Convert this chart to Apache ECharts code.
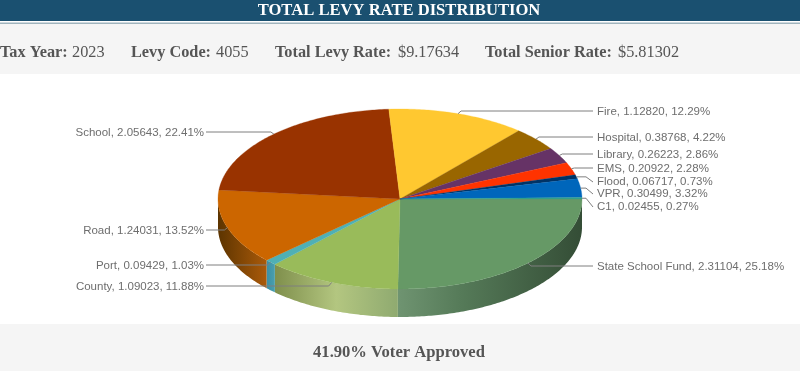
<!DOCTYPE html>
<html>
<head>
<meta charset="utf-8">
<style>html,body{margin:0;padding:0;background:#fff}#c{width:800px;height:371px}</style>
<script src="https://cdn.jsdelivr.net/npm/echarts@6/dist/echarts.min.js"></script>
</head>
<body>
<div id="c"></div>
<script>
// ---- data ----
const categories = ['State School Fund','County','Port','Road','School','Fire','Hospital','Library','EMS','Flood','VPR','C1'];
const values = [2.31104,1.09023,0.09429,1.24031,2.05643,1.12820,0.38768,0.26223,0.20922,0.06717,0.30499,0.02455];
const percents = [25.18,11.88,1.03,13.52,22.41,12.29,4.22,2.86,2.28,0.73,3.32,0.27];

// ---- styles and layout ----
const sliceColors = ['#669966','#99bb5a','#4fb0b5','#cc6600','#993300','#ffc830','#996600','#663366','#ff3300','#003366','#0066bb','#33a08a'];
const sideStops = {
  0: [[0,'#6f9471'],[0.35,'#557a58'],[1,'#344d36']],
  1: [[0,'#7f8f4c'],[0.5,'#b3c680'],[1,'#8faa70']],
  2: [[0,'#3a8fa5'],[1,'#4a9fae']],
  3: [[0,'#5c3400'],[1,'#aa5a0a']]
};
const labelYs = [267,287,266,231,133,112,138,155,169,182,194,207];
const cx = 400, cy = 199, rx = 182, ry = 90, depth = 28;
const labelRightX = 597, labelLeftX = 204;
const total = values.reduce((a,b)=>a+b,0);
const toRad = d => d*Math.PI/180;
const spans = [];
values.reduce((acc,v)=>{const e=acc+v/total*360;spans.push([acc,e]);return e;},0);
const pt = (deg,dy=0) => [cx+rx*Math.cos(toRad(deg)), cy+ry*Math.sin(toRad(deg))+dy];
const arc = (a,b,dy=0) => {
  const pts=[], n=Math.max(2,Math.ceil(Math.abs(b-a)/0.75));
  for(let i=0;i<=n;i++) pts.push(pt(a+(b-a)*i/n,dy));
  return pts;
};

function renderSide(params, api){
  const i = api.value(0), a = spans[i][0], b = Math.min(spans[i][1],180);
  if(a>=180) return {type:'group',children:[]};
  const pts = arc(a,b).concat(arc(b,a,depth));
  return {type:'polygon',shape:{points:pts},
    style:{fill:new echarts.graphic.LinearGradient(0,0,1,0,sideStops[i].map(s=>({offset:s[0],color:s[1]}))),stroke:null}};
}
function renderTop(params, api){
  const i = api.value(0), a = spans[i][0], b = spans[i][1];
  return {type:'polygon',shape:{points:[[cx,cy]].concat(arc(a,b))},
    style:{fill:sliceColors[i],stroke:sliceColors[i],lineWidth:0.3}};
}
function renderLabel(params, api){
  const i = api.value(0), mid = (spans[i][0]+spans[i][1])/2, anchor = pt(mid), y = labelYs[i];
  const right = anchor[0] > cx;
  const lineY = y-1;
  let pts;
  if(i>=9) pts = [anchor,[586,anchor[1]],[593,y]];
  else if(right) pts = [anchor,[anchor[0]+3,lineY],[593,lineY]];
  else pts = [anchor,[anchor[0]-3,lineY],[206,lineY]];
  return {type:'group',children:[
    {type:'polyline',shape:{points:pts},style:{stroke:'#7f7f7f',lineWidth:1,fill:null}},
    {type:'text',style:{x:right?labelRightX:labelLeftX,y:y,
      text:categories[i]+', '+values[i].toFixed(5)+', '+percents[i].toFixed(2)+'%',
      align:right?'left':'right',verticalAlign:'middle',fill:'#6e6e6e',
      font:'11.5px "Liberation Sans", Arial, sans-serif'}}
  ]};
}
const idx = categories.map((c,i)=>({name:c,value:[i,values[i]]}));
const serif = '"Liberation Serif", "Times New Roman", serif';
const txt = (x,y,t,bold,extra) => Object.assign({type:'text',z:5,style:{x,y,text:t,fill:'#555555',
  verticalAlign:'middle',font:(bold?'bold ':'')+'16.3px '+serif}},extra||{});
const chart = echarts.init(document.getElementById('c'),null,{renderer:'canvas'});
chart.setOption({
  animation:false,
  backgroundColor:'#ffffff',
  tooltip:{show:false},
  graphic:[
    {type:'rect',z:-10,shape:{x:0,y:0,width:800,height:21},style:{fill:'#1a5070'}},
    {type:'rect',z:-10,shape:{x:0,y:22.5,width:800,height:1.5},style:{fill:'#9fb4bd'}},
    {type:'rect',z:-10,shape:{x:0,y:24,width:800,height:50},style:{fill:'#f5f5f5'}},
    {type:'rect',z:-10,shape:{x:0,y:324,width:800,height:47},style:{fill:'#f5f5f5'}},
    {type:'text',z:5,style:{x:399,y:10.5,text:'TOTAL LEVY RATE DISTRIBUTION',fill:'#ffffff',align:'center',verticalAlign:'middle',font:'bold 16.6px '+serif}},
    txt(0,53,'Tax Year:',true), txt(72,53,'2023',false),
    txt(131,53,'Levy Code:',true), txt(216,53,'4055',false),
    txt(275,53,'Total Levy Rate:',true), txt(398,53,'$9.17634',false),
    txt(485,53,'Total Senior Rate:',true), txt(618,53,'$5.81302',false),
    {type:'text',z:5,style:{x:399,y:352.5,text:'41.90% Voter Approved',fill:'#555555',align:'center',verticalAlign:'middle',font:'bold 16.6px '+serif}}
  ],
  series:[
    {type:'custom',name:'side',coordinateSystem:'none',z:2,silent:true,renderItem:renderSide,data:idx},
    {type:'custom',name:'top',coordinateSystem:'none',z:3,silent:true,renderItem:renderTop,data:idx},
    {type:'custom',name:'labels',coordinateSystem:'none',z:4,silent:true,renderItem:renderLabel,data:idx}
  ]
});
</script>
</body>
</html>
